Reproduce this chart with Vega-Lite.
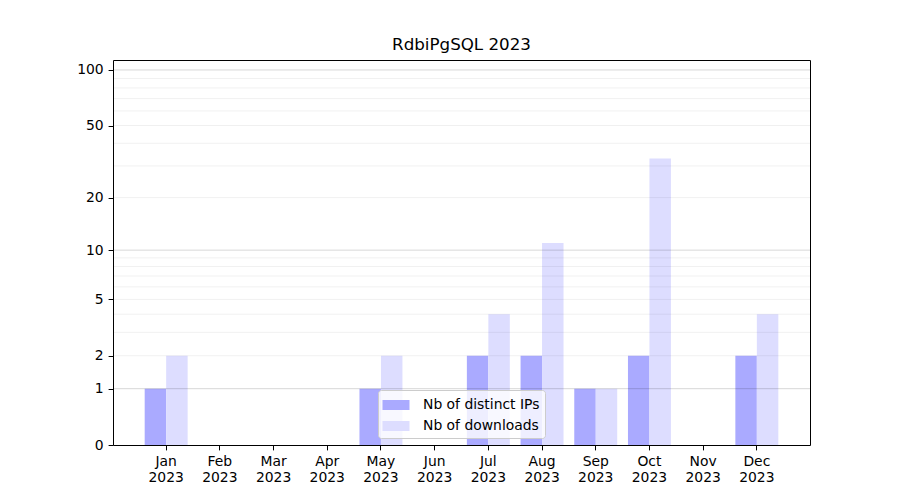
{
  "$schema": "https://vega.github.io/schema/vega-lite/v6.json",
  "autosize": "none",
  "padding": {"left": 113, "top": 60, "right": 90, "bottom": 55},
  "width": 697,
  "height": 385,
  "background": "white",
  "title": {"text": "RdbiPgSQL 2023", "fontSize": 16.7, "font": "DejaVu Sans", "fontWeight": "normal", "color": "black", "anchor": "middle", "offset": 6},
  "config": {
    "font": "DejaVu Sans",
    "view": {"stroke": "black", "strokeWidth": 1},
    "axis": {"labelFont": "DejaVu Sans", "labelFontSize": 13.9, "labelColor": "black", "tickColor": "black", "tickSize": 4.9, "domainColor": "black", "labelPadding": 4.9, "grid": false}
  },
  "layer": [
    {
      "data": {"values": [
        {"month": "Jan 2023", "series": "Nb of distinct IPs", "value": 1},
        {"month": "Jan 2023", "series": "Nb of downloads", "value": 2},
        {"month": "Feb 2023", "series": "Nb of distinct IPs", "value": 0},
        {"month": "Feb 2023", "series": "Nb of downloads", "value": 0},
        {"month": "Mar 2023", "series": "Nb of distinct IPs", "value": 0},
        {"month": "Mar 2023", "series": "Nb of downloads", "value": 0},
        {"month": "Apr 2023", "series": "Nb of distinct IPs", "value": 0},
        {"month": "Apr 2023", "series": "Nb of downloads", "value": 0},
        {"month": "May 2023", "series": "Nb of distinct IPs", "value": 1},
        {"month": "May 2023", "series": "Nb of downloads", "value": 2},
        {"month": "Jun 2023", "series": "Nb of distinct IPs", "value": 0},
        {"month": "Jun 2023", "series": "Nb of downloads", "value": 0},
        {"month": "Jul 2023", "series": "Nb of distinct IPs", "value": 2},
        {"month": "Jul 2023", "series": "Nb of downloads", "value": 4},
        {"month": "Aug 2023", "series": "Nb of distinct IPs", "value": 2},
        {"month": "Aug 2023", "series": "Nb of downloads", "value": 11},
        {"month": "Sep 2023", "series": "Nb of distinct IPs", "value": 1},
        {"month": "Sep 2023", "series": "Nb of downloads", "value": 1},
        {"month": "Oct 2023", "series": "Nb of distinct IPs", "value": 2},
        {"month": "Oct 2023", "series": "Nb of downloads", "value": 33},
        {"month": "Nov 2023", "series": "Nb of distinct IPs", "value": 0},
        {"month": "Nov 2023", "series": "Nb of downloads", "value": 0},
        {"month": "Dec 2023", "series": "Nb of distinct IPs", "value": 2},
        {"month": "Dec 2023", "series": "Nb of downloads", "value": 4}
      ]},
      "mark": {"type": "bar"},
      "encoding": {
        "x": {"field": "month", "type": "nominal", "sort": null, "title": null,
              "scale": {"paddingInner": 0.2, "paddingOuter": 0.59},
              "axis": {"labelAngle": 0, "labelExpr": "split(datum.value, ' ')", "domain": false, "labelLineHeight": 16}},
        "xOffset": {"field": "series", "type": "nominal", "sort": null, "scale": {"paddingInner": 0, "paddingOuter": 0}},
        "y": {"field": "value", "type": "quantitative", "title": null,
              "scale": {"type": "symlog", "constant": 1, "domain": [0, 113.2], "nice": false, "zero": true},
              "axis": {"values": [0, 1, 2, 5, 10, 20, 50, 100], "domain": false}},
        "color": {"field": "series", "type": "nominal", "sort": null,
                  "scale": {"domain": ["Nb of distinct IPs", "Nb of downloads"], "range": ["#aaaaff", "#ddddff"]},
                  "legend": {"title": null, "orient": "none", "legendX": 265, "legendY": 330, "direction": "vertical",
                             "symbolType": "M-1.35,-0.5H1.35V0.5H-1.35Z", "symbolSize": 400, "symbolStrokeWidth": 0, "symbolOffset": 3,
                             "labelFontSize": 13.9, "labelFont": "DejaVu Sans", "labelColor": "black", "labelOffset": 17,
                             "fillColor": "rgba(255,255,255,0.8)", "strokeColor": "#cccccc", "cornerRadius": 3, "padding": 5, "rowPadding": 4}}
      }
    },
    {
      "data": {"values": [{"v": 2}, {"v": 3}, {"v": 4}, {"v": 5}, {"v": 6}, {"v": 7}, {"v": 8}, {"v": 9}, {"v": 20}, {"v": 30}, {"v": 40}, {"v": 50}, {"v": 60}, {"v": 70}, {"v": 80}, {"v": 90}]},
      "mark": {"type": "rule", "color": "black", "opacity": 0.075, "strokeWidth": 0.8},
      "encoding": {"y": {"field": "v", "type": "quantitative", "title": null, "axis": {"values": [0, 1, 2, 5, 10, 20, 50, 100], "domain": false}}}
    },
    {
      "data": {"values": [{"v": 1}, {"v": 10}, {"v": 100}]},
      "mark": {"type": "rule", "color": "black", "opacity": 0.2, "strokeWidth": 0.8},
      "encoding": {"y": {"field": "v", "type": "quantitative", "title": null, "axis": {"values": [0, 1, 2, 5, 10, 20, 50, 100], "domain": false}}}
    }
  ]
}
